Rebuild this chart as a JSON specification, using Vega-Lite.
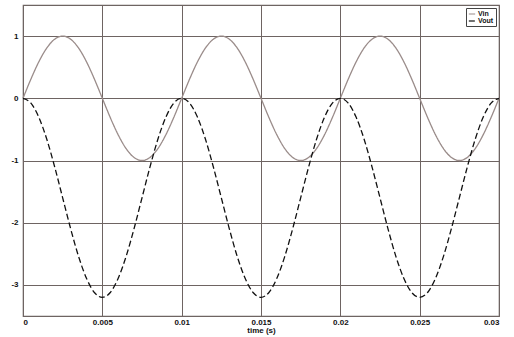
{
  "$schema": "https://vega.github.io/schema/vega-lite/v6.json",
  "width": 476,
  "height": 311,
  "autosize": "none",
  "padding": {"left": 23, "top": 5, "right": 15, "bottom": 21},
  "background": "white",
  "config": {
    "view": {"stroke": "#6e6462", "strokeWidth": 1.2},
    "font": "Liberation Sans",
    "legend": {
      "orient": "top-right",
      "offset": 3,
      "labelFontSize": 7,
      "labelFontWeight": "bold",
      "labelColor": "#111",
      "symbolType": "stroke",
      "symbolSize": 40,
      "symbolStrokeWidth": 1.2,
      "rowPadding": 0,
      "labelOffset": 2,
      "padding": 2,
      "strokeColor": "#444",
      "fillColor": "white"
    }
  },
  "data": {
    "values": [
      {"t": 0, "Vin": 0, "Vout": 0},
      {"t": 0.0005, "Vin": 0.309, "Vout": -0.078},
      {"t": 0.001, "Vin": 0.588, "Vout": -0.306},
      {"t": 0.0015, "Vin": 0.809, "Vout": -0.659},
      {"t": 0.002, "Vin": 0.951, "Vout": -1.106},
      {"t": 0.0025, "Vin": 1, "Vout": -1.6},
      {"t": 0.003, "Vin": 0.951, "Vout": -2.094},
      {"t": 0.0035, "Vin": 0.809, "Vout": -2.541},
      {"t": 0.004, "Vin": 0.588, "Vout": -2.894},
      {"t": 0.0045, "Vin": 0.309, "Vout": -3.122},
      {"t": 0.005, "Vin": 0, "Vout": -3.2},
      {"t": 0.0055, "Vin": -0.309, "Vout": -3.122},
      {"t": 0.006, "Vin": -0.588, "Vout": -2.894},
      {"t": 0.0065, "Vin": -0.809, "Vout": -2.541},
      {"t": 0.007, "Vin": -0.951, "Vout": -2.094},
      {"t": 0.0075, "Vin": -1, "Vout": -1.6},
      {"t": 0.008, "Vin": -0.951, "Vout": -1.106},
      {"t": 0.0085, "Vin": -0.809, "Vout": -0.659},
      {"t": 0.009, "Vin": -0.588, "Vout": -0.306},
      {"t": 0.0095, "Vin": -0.309, "Vout": -0.078},
      {"t": 0.01, "Vin": 0, "Vout": 0},
      {"t": 0.0105, "Vin": 0.309, "Vout": -0.078},
      {"t": 0.011, "Vin": 0.588, "Vout": -0.306},
      {"t": 0.0115, "Vin": 0.809, "Vout": -0.659},
      {"t": 0.012, "Vin": 0.951, "Vout": -1.106},
      {"t": 0.0125, "Vin": 1, "Vout": -1.6},
      {"t": 0.013, "Vin": 0.951, "Vout": -2.094},
      {"t": 0.0135, "Vin": 0.809, "Vout": -2.541},
      {"t": 0.014, "Vin": 0.588, "Vout": -2.894},
      {"t": 0.0145, "Vin": 0.309, "Vout": -3.122},
      {"t": 0.015, "Vin": 0, "Vout": -3.2},
      {"t": 0.0155, "Vin": -0.309, "Vout": -3.122},
      {"t": 0.016, "Vin": -0.588, "Vout": -2.894},
      {"t": 0.0165, "Vin": -0.809, "Vout": -2.541},
      {"t": 0.017, "Vin": -0.951, "Vout": -2.094},
      {"t": 0.0175, "Vin": -1, "Vout": -1.6},
      {"t": 0.018, "Vin": -0.951, "Vout": -1.106},
      {"t": 0.0185, "Vin": -0.809, "Vout": -0.659},
      {"t": 0.019, "Vin": -0.588, "Vout": -0.306},
      {"t": 0.0195, "Vin": -0.309, "Vout": -0.078},
      {"t": 0.02, "Vin": 0, "Vout": 0},
      {"t": 0.0205, "Vin": 0.309, "Vout": -0.078},
      {"t": 0.021, "Vin": 0.588, "Vout": -0.306},
      {"t": 0.0215, "Vin": 0.809, "Vout": -0.659},
      {"t": 0.022, "Vin": 0.951, "Vout": -1.106},
      {"t": 0.0225, "Vin": 1, "Vout": -1.6},
      {"t": 0.023, "Vin": 0.951, "Vout": -2.094},
      {"t": 0.0235, "Vin": 0.809, "Vout": -2.541},
      {"t": 0.024, "Vin": 0.588, "Vout": -2.894},
      {"t": 0.0245, "Vin": 0.309, "Vout": -3.122},
      {"t": 0.025, "Vin": 0, "Vout": -3.2},
      {"t": 0.0255, "Vin": -0.309, "Vout": -3.122},
      {"t": 0.026, "Vin": -0.588, "Vout": -2.894},
      {"t": 0.0265, "Vin": -0.809, "Vout": -2.541},
      {"t": 0.027, "Vin": -0.951, "Vout": -2.094},
      {"t": 0.0275, "Vin": -1, "Vout": -1.6},
      {"t": 0.028, "Vin": -0.951, "Vout": -1.106},
      {"t": 0.0285, "Vin": -0.809, "Vout": -0.659},
      {"t": 0.029, "Vin": -0.588, "Vout": -0.306},
      {"t": 0.0295, "Vin": -0.309, "Vout": -0.078},
      {"t": 0.03, "Vin": 0, "Vout": 0}
    ]
  },
  "transform": [{"fold": ["Vin", "Vout"], "as": ["series", "v"]}],
  "mark": {"type": "line", "interpolate": "monotone", "strokeWidth": 1.3},
  "encoding": {
    "x": {
      "field": "t",
      "type": "quantitative",
      "scale": {"domain": [0, 0.03], "nice": false},
      "axis": {
        "title": "time (s)",
        "titleFont": "Liberation Sans",
        "titleFontSize": 8,
        "titleFontWeight": "bold",
        "titleColor": "#111",
        "titlePadding": 0,
        "values": [0, 0.005, 0.01, 0.015, 0.02, 0.025, 0.03],
        "labelExpr": "'' + datum.value",
        "labelFontSize": 8,
        "labelFontWeight": "bold",
        "labelColor": "#111",
        "labelPadding": 2,
        "ticks": false,
        "domain": false,
        "grid": true,
        "gridColor": "#6e6462",
        "gridOpacity": 1,
        "gridWidth": 1
      }
    },
    "y": {
      "field": "v",
      "type": "quantitative",
      "scale": {"domain": [-3.5, 1.5], "nice": false, "zero": false},
      "axis": {
        "title": null,
        "values": [1, 0, -1, -2, -3],
        "labelExpr": "'' + datum.value",
        "labelFontSize": 8,
        "labelFontWeight": "bold",
        "labelColor": "#111",
        "labelPadding": 5,
        "ticks": false,
        "domain": false,
        "grid": true,
        "gridColor": "#6e6462",
        "gridOpacity": 1,
        "gridWidth": 1
      }
    },
    "color": {
      "field": "series",
      "type": "nominal",
      "scale": {"domain": ["Vin", "Vout"], "range": ["#9a8c8a", "#111111"]},
      "legend": {"title": null}
    },
    "strokeDash": {
      "field": "series",
      "type": "nominal",
      "scale": {"domain": ["Vin", "Vout"], "range": [[1, 0], [6, 3]]},
      "legend": {"title": null}
    }
  }
}
